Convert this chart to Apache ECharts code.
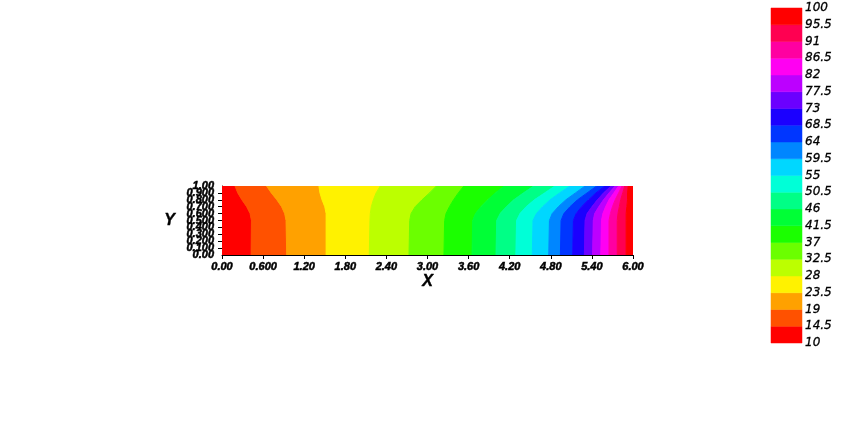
<!DOCTYPE html>
<html><head><meta charset="utf-8">
<script src="https://cdn.jsdelivr.net/npm/echarts@6/dist/echarts.min.js"></script>
<style>html,body{margin:0;padding:0;background:#fff}#c{width:856px;height:441px}</style>
</head><body><div id="c"></div>
<script>
// contour levels and colorbar labels
const levels = [10,14.5,19,23.5,28,32.5,37,41.5,46,50.5,55,59.5,64,68.5,73,77.5,82,86.5,91,95.5,100];
const levelLabels = ['10','14.5','19','23.5','28','32.5','37','41.5','46','50.5','55','59.5','64','68.5','73','77.5','82','86.5','91','95.5','100'];
const bandColors = ['#ff0000','#ff5100','#ffa100','#fff200','#bcff00','#6bff00','#1bff00','#00ff36','#00ff86','#00ffd7',
                    '#00d7ff','#0086ff','#0036ff','#1b00ff','#6b00ff','#bc00ff','#ff00f2','#ff00a1','#ff0051','#ff0000'];
const xTickLabels = ['0.00','0.600','1.20','1.80','2.40','3.00','3.60','4.20','4.80','5.40','6.00'];
const yTickLabels = ['0.00','0.100','0.200','0.300','0.400','0.500','0.600','0.700','0.800','0.900','1.00'];

// y positions at which the iso-line x positions were read
const isoY = [0, 0.5, 0.6, 0.7, 0.8, 0.9, 1.0];
// x position of each iso-line (one array per level)
const iso14_5 = [0.425, 0.43, 0.41, 0.36, 0.29, 0.23, 0.19];
const iso19   = [0.945, 0.935, 0.915, 0.87, 0.80, 0.72, 0.65];
const iso23_5 = [1.52, 1.52, 1.52, 1.50, 1.46, 1.43, 1.415];
const iso28   = [2.15, 2.16, 2.165, 2.18, 2.21, 2.25, 2.31];
const iso32_5 = [2.73, 2.74, 2.76, 2.82, 2.92, 3.03, 3.13];
const iso37   = [3.24, 3.25, 3.27, 3.32, 3.38, 3.45, 3.53];
const iso41_5 = [3.65, 3.66, 3.70, 3.78, 3.88, 3.99, 4.12];
const iso46   = [4.00, 4.01, 4.06, 4.15, 4.26, 4.40, 4.55];
const iso50_5 = [4.29, 4.30, 4.35, 4.44, 4.56, 4.71, 4.86];
const iso55   = [4.53, 4.54, 4.59, 4.68, 4.79, 4.93, 5.08];
const iso59_5 = [4.77, 4.78, 4.82, 4.91, 5.02, 5.16, 5.30];
const iso64   = [4.94, 4.95, 4.99, 5.08, 5.19, 5.33, 5.47];
const iso68_5 = [5.12, 5.13, 5.17, 5.25, 5.35, 5.46, 5.59];
const iso73   = [5.29, 5.30, 5.33, 5.40, 5.48, 5.57, 5.68];
const iso77_5 = [5.41, 5.42, 5.44, 5.50, 5.57, 5.65, 5.74];
const iso82   = [5.53, 5.54, 5.56, 5.60, 5.65, 5.72, 5.79];
const iso86_5 = [5.65, 5.65, 5.67, 5.70, 5.74, 5.79, 5.84];
const iso91   = [5.77, 5.77, 5.78, 5.80, 5.82, 5.85, 5.88];
const iso95_5 = [5.90, 5.90, 5.90, 5.91, 5.92, 5.92, 5.93];
const isoLines = [iso14_5, iso19, iso23_5, iso28, iso32_5, iso37, iso41_5, iso46, iso50_5, iso55,
                  iso59_5, iso64, iso68_5, iso73, iso77_5, iso82, iso86_5, iso91, iso95_5];

const X_MIN = 0, X_MAX = 6, Y_MIN = 0, Y_MAX = 1;
const bandIdx = bandColors.map((c, i) => i);

const tickFont = {fontFamily: '"Liberation Sans Narrow", "Liberation Sans"', fontSize: 11, fontWeight: 'bold',
                  fontStyle: 'italic', color: '#000', textBorderColor: '#000', textBorderWidth: 0.5};
const nameFont = {fontFamily: 'Liberation Sans', fontSize: 16, fontWeight: 'bold', fontStyle: 'italic', color: '#000',
                  textBorderColor: '#000', textBorderWidth: 0.4};
const yLabelIdx = v => Math.round(v / 0.1);

const chart = echarts.init(document.getElementById('c'), null, {renderer: 'canvas'});
chart.setOption({
  animation: false,
  backgroundColor: '#fff',
  grid: [
    {left: 222, top: 186, width: 411, height: 69},
    {left: 771, top: 8, width: 31, height: 335}
  ],
  xAxis: [
    {type: 'value', gridIndex: 0, min: X_MIN, max: X_MAX, interval: 0.6,
     name: 'X', nameLocation: 'middle', nameGap: 19, nameTextStyle: nameFont,
     axisLine: {lineStyle: {color: '#000', width: 1}},
     axisTick: {show: true, length: 4, lineStyle: {color: '#000'}},
     axisLabel: Object.assign({margin: 6, showMinLabel: true, showMaxLabel: true,
                               formatter: v => xTickLabels[Math.round(v / 0.6)]}, tickFont),
     splitLine: {show: false}},
    {type: 'value', gridIndex: 1, min: 0, max: 1, show: false}
  ],
  yAxis: [
    // inner tick labels 0.100 .. 0.900 with axis line and ticks
    {type: 'value', gridIndex: 0, min: Y_MIN, max: Y_MAX, interval: 0.1,
     name: 'Y', nameLocation: 'middle', nameGap: 47, nameRotate: 0, nameTextStyle: nameFont,
     axisLine: {show: true, lineStyle: {color: '#000', width: 1}},
     axisTick: {show: true, length: 4, lineStyle: {color: '#000'}},
     axisLabel: Object.assign({margin: 8, showMinLabel: false, showMaxLabel: false,
                               formatter: v => yTickLabels[yLabelIdx(v)]}, tickFont),
     splitLine: {show: false}},
    {type: 'value', gridIndex: 1, min: 0, max: levels.length - 1, interval: 1, position: 'right',
     axisLine: {show: false}, axisTick: {show: false}, splitLine: {show: false},
     axisLabel: {margin: 3, showMinLabel: true, showMaxLabel: true, formatter: v => levelLabels[v],
                 fontFamily: 'DejaVu Sans', fontSize: 12, fontStyle: 'italic', color: '#000',
                 textBorderColor: '#000', textBorderWidth: 0.3}},
    // end tick labels 0.00 and 1.00 (same scale, overlapping axis)
    {type: 'value', gridIndex: 0, min: Y_MIN, max: Y_MAX, interval: 0.1, position: 'left', offset: 0,
     axisLine: {show: false}, axisTick: {show: false}, splitLine: {show: false},
     axisLabel: Object.assign({margin: 8, showMinLabel: true, showMaxLabel: true,
                               formatter: v => { const i = yLabelIdx(v); return (i === 0 || i === 10) ? yTickLabels[i] : ''; }},
                              tickFont)}
  ],
  series: [
    {
      type: 'custom', xAxisIndex: 0, yAxisIndex: 0, clip: true,
      data: bandIdx.map(i => [X_MIN, Y_MIN, i]),
      renderItem: function (params, api) {
        const b = api.value(2);
        const left = b === 0 ? null : isoLines[b - 1];
        const right = b === bandIdx.length - 1 ? null : isoLines[b];
        const pts = [];
        for (let k = 0; k < isoY.length; k++) pts.push(api.coord([left ? left[k] : X_MIN, isoY[k]]));
        for (let k = isoY.length - 1; k >= 0; k--) pts.push(api.coord([right ? right[k] : X_MAX, isoY[k]]));
        return {type: 'polygon', shape: {points: pts},
                style: {fill: bandColors[b], stroke: bandColors[b], lineWidth: 1}};
      },
      z: 1
    },
    {
      type: 'custom', xAxisIndex: 1, yAxisIndex: 1,
      data: bandIdx.map(i => [0, i, i]),
      renderItem: function (params, api) {
        const b = api.value(2);
        const p0 = api.coord([0, b]);
        const p1 = api.coord([1, b + 1]);
        return {type: 'rect', shape: {x: p0[0], y: p1[1], width: p1[0] - p0[0], height: p0[1] - p1[1]},
                style: {fill: bandColors[b], stroke: bandColors[b], lineWidth: 0.5}};
      }
    }
  ]
});
</script>
</body></html>
